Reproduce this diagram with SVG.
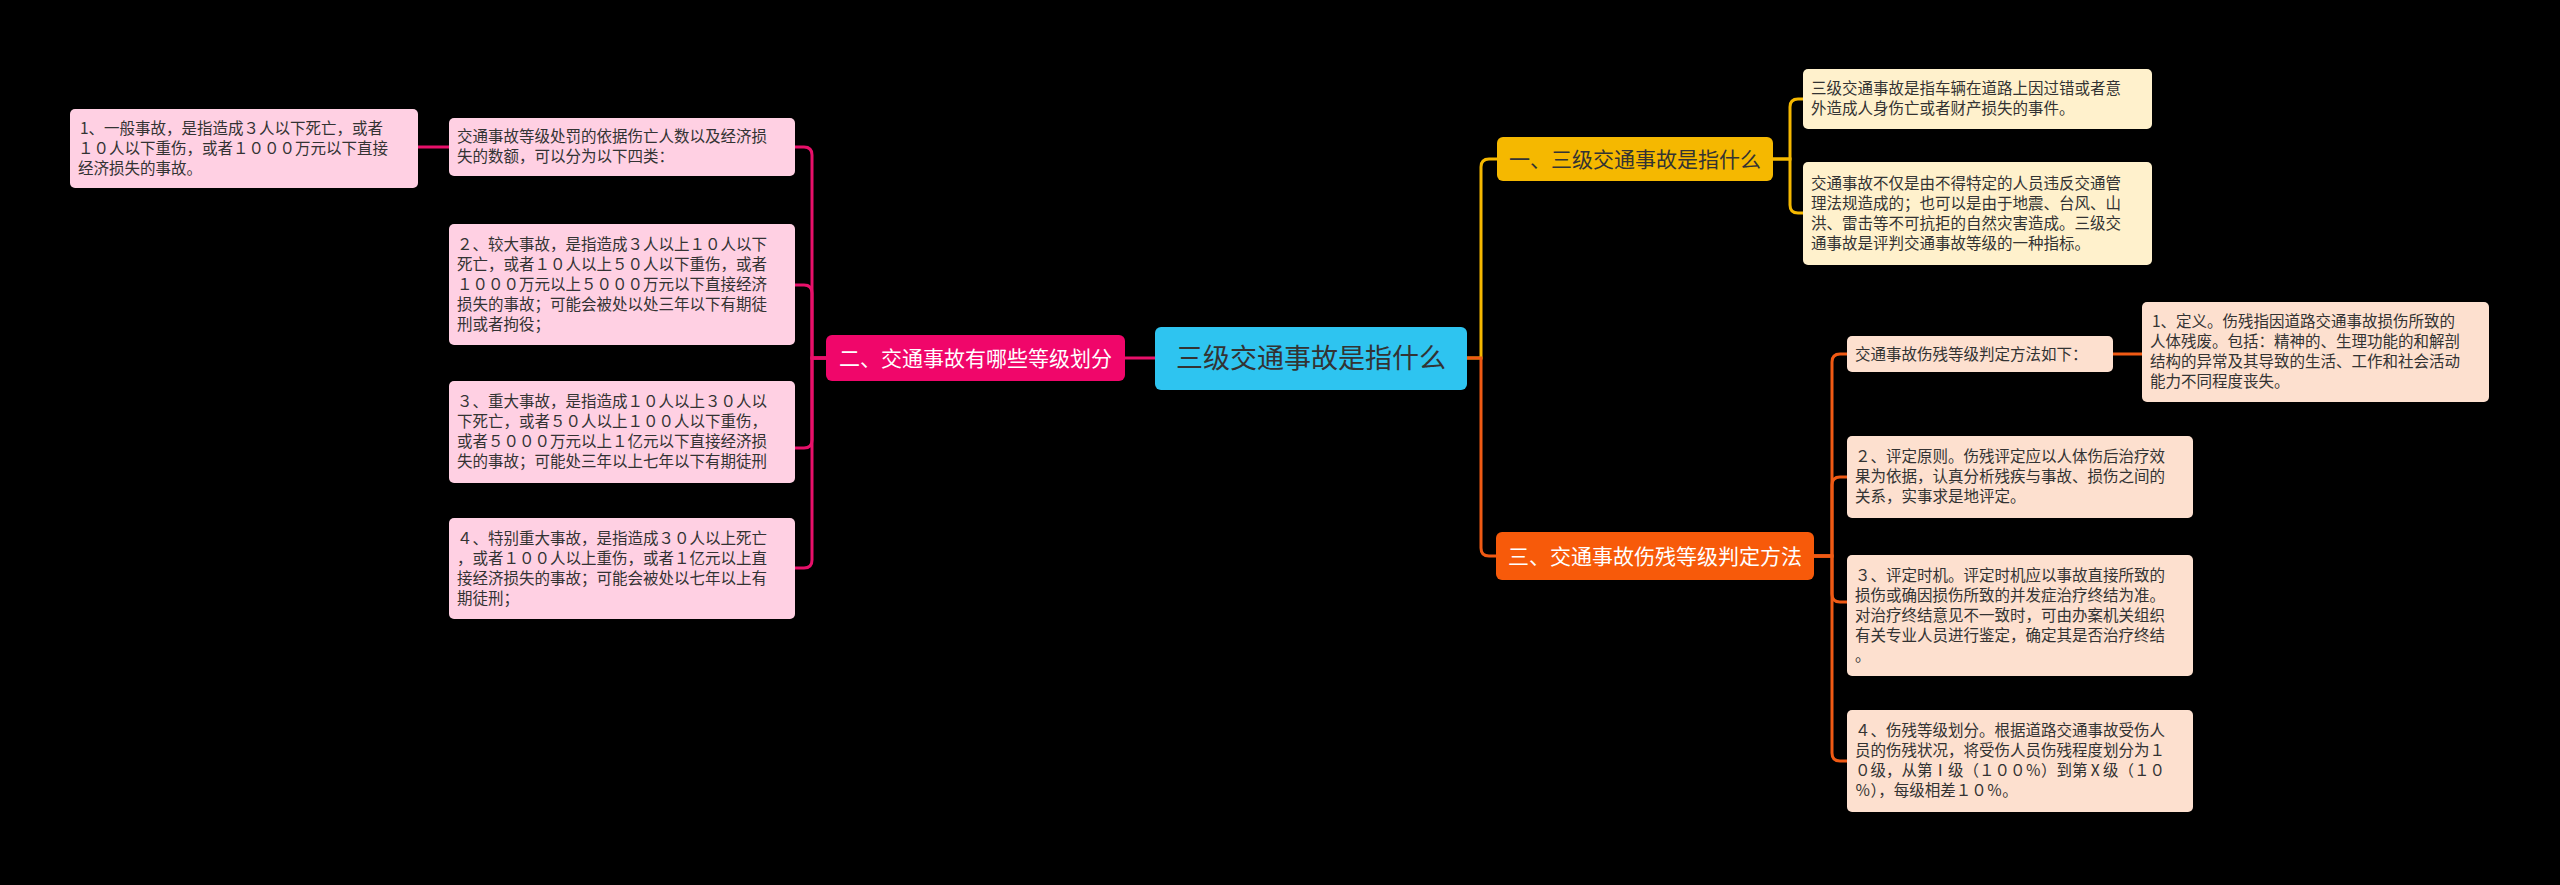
<svg xmlns="http://www.w3.org/2000/svg" width="2560" height="885" viewBox="0 0 2560 885">
<style>
text{font-family:"Noto Sans CJK SC","Noto Sans",sans-serif;}
.t{font-size:15.5px;fill:#333;}
.pk{fill:#ffd0e3;}
.cr{fill:#fff1cc;}
.pc{fill:#fde0cf;}
.c{fill:none;stroke-width:3;}
</style>
<rect width="2560" height="885" fill="#000"/>
<g id="connectors">
<path class="c" stroke="#e8106a" d="M1155,358 H1125"/>
<path class="c" stroke="#e8106a" d="M826,358 H812 V155 Q812,147 804,147 H795"/>
<path class="c" stroke="#e8106a" d="M826,358 H812 V293 Q812,285 804,285 H795"/>
<path class="c" stroke="#e8106a" d="M826,358 H812 V440 Q812,448 804,448 H795"/>
<path class="c" stroke="#e8106a" d="M826,358 H812 V560 Q812,568 804,568 H795"/>
<path class="c" stroke="#e8106a" d="M449,147 H418"/>
<path class="c" stroke="#f5b800" d="M1467,358 H1481 V167 Q1481,159 1489,159 H1497"/>
<path class="c" stroke="#f05a14" d="M1467,358 H1481 V548 Q1481,556 1489,556 H1496"/>
<path class="c" stroke="#f5b800" d="M1773,159 H1790 V107 Q1790,99 1798,99 H1803"/>
<path class="c" stroke="#f5b800" d="M1773,159 H1790 V205 Q1790,213 1798,213 H1803"/>
<path class="c" stroke="#f05a14" d="M1814,556 H1832 V362 Q1832,354 1840,354 H1847"/>
<path class="c" stroke="#f05a14" d="M1814,556 H1832 V485 Q1832,477 1840,477 H1847"/>
<path class="c" stroke="#f05a14" d="M1814,556 H1832 V594 Q1832,602 1840,602 H1847"/>
<path class="c" stroke="#f05a14" d="M1814,556 H1832 V753 Q1832,761 1840,761 H1847"/>
<path class="c" stroke="#f05a14" d="M2113,354 H2142"/>
</g>
<g id="center"><rect x="1155" y="327" width="312" height="63" rx="6" fill="#2ec4f0"/><text x="1311" y="368" font-size="27" fill="#333" text-anchor="middle">三级交通事故是指什么</text></g>
<g id="b2"><rect x="826" y="335" width="299" height="46" rx="6" fill="#f0066a"/><text x="975.5" y="366" font-size="21" fill="#fff" text-anchor="middle">二、交通事故有哪些等级划分</text></g>
<g id="b1"><rect x="1497" y="137" width="276" height="44" rx="6" fill="#f5b800"/><text x="1635" y="167" font-size="21" fill="#333" text-anchor="middle">一、三级交通事故是指什么</text></g>
<g id="b3"><rect x="1496" y="532" width="318" height="48" rx="6" fill="#f75a0a"/><text x="1655" y="564" font-size="21" fill="#fff" text-anchor="middle">三、交通事故伤残等级判定方法</text></g>
<g id="l0"><rect class="pk" x="449" y="118" width="346" height="58" rx="5"/><text class="t" x="457"><tspan x="457" y="142">交通事故等级处罚的依据伤亡人数以及经济损</tspan><tspan x="457" y="162">失的数额，可以分为以下四类：</tspan></text></g>
<g id="l1"><rect class="pk" x="70" y="109" width="348" height="79" rx="5"/><text class="t" x="78"><tspan x="80" y="134">1、一般事故，是指造成３人以下死亡，或者</tspan><tspan x="78" y="154">１０人以下重伤，或者１０００万元以下直接</tspan><tspan x="78" y="174">经济损失的事故。</tspan></text></g>
<g id="l2"><rect class="pk" x="449" y="224" width="346" height="121" rx="5"/><text class="t"><tspan x="457" y="250">２、较大事故，是指造成３人以上１０人以下</tspan><tspan x="457" y="270">死亡，或者１０人以上５０人以下重伤，或者</tspan><tspan x="457" y="290">１０００万元以上５０００万元以下直接经济</tspan><tspan x="457" y="310">损失的事故；可能会被处以处三年以下有期徒</tspan><tspan x="457" y="330">刑或者拘役；</tspan></text></g>
<g id="l3"><rect class="pk" x="449" y="381" width="346" height="102" rx="5"/><text class="t"><tspan x="457" y="407">３、重大事故，是指造成１０人以上３０人以</tspan><tspan x="457" y="427">下死亡，或者５０人以上１００人以下重伤，</tspan><tspan x="457" y="447">或者５０００万元以上１亿元以下直接经济损</tspan><tspan x="457" y="467">失的事故；可能处三年以上七年以下有期徒刑</tspan></text></g>
<g id="l4"><rect class="pk" x="449" y="518" width="346" height="101" rx="5"/><text class="t"><tspan x="457" y="544">４、特别重大事故，是指造成３０人以上死亡</tspan><tspan x="457" y="564">，或者１００人以上重伤，或者１亿元以上直</tspan><tspan x="457" y="584">接经济损失的事故；可能会被处以七年以上有</tspan><tspan x="457" y="604">期徒刑；</tspan></text></g>
<g id="r1a"><rect class="cr" x="1803" y="69" width="349" height="60" rx="5"/><text class="t"><tspan x="1811" y="94">三级交通事故是指车辆在道路上因过错或者意</tspan><tspan x="1811" y="114">外造成人身伤亡或者财产损失的事件。</tspan></text></g>
<g id="r1b"><rect class="cr" x="1803" y="162" width="349" height="103" rx="5"/><text class="t"><tspan x="1811" y="189">交通事故不仅是由不得特定的人员违反交通管</tspan><tspan x="1811" y="209">理法规造成的；也可以是由于地震、台风、山</tspan><tspan x="1811" y="229">洪、雷击等不可抗拒的自然灾害造成。三级交</tspan><tspan x="1811" y="249">通事故是评判交通事故等级的一种指标。</tspan></text></g>
<g id="c0"><rect class="pc" x="1847" y="336" width="266" height="36" rx="5"/><text class="t" x="1855" y="360">交通事故伤残等级判定方法如下：</text></g>
<g id="c0a"><rect class="pc" x="2142" y="302" width="347" height="100" rx="5"/><text class="t"><tspan x="2152" y="327">1、定义。伤残指因道路交通事故损伤所致的</tspan><tspan x="2150" y="347">人体残废。包括：精神的、生理功能的和解剖</tspan><tspan x="2150" y="367">结构的异常及其导致的生活、工作和社会活动</tspan><tspan x="2150" y="387">能力不同程度丧失。</tspan></text></g>
<g id="c1"><rect class="pc" x="1847" y="436" width="346" height="82" rx="5"/><text class="t"><tspan x="1855" y="462">２、评定原则。伤残评定应以人体伤后治疗效</tspan><tspan x="1855" y="482">果为依据，认真分析残疾与事故、损伤之间的</tspan><tspan x="1855" y="502">关系，实事求是地评定。</tspan></text></g>
<g id="c2"><rect class="pc" x="1847" y="555" width="346" height="121" rx="5"/><text class="t"><tspan x="1855" y="581">３、评定时机。评定时机应以事故直接所致的</tspan><tspan x="1855" y="601">损伤或确因损伤所致的并发症治疗终结为准。</tspan><tspan x="1855" y="621">对治疗终结意见不一致时，可由办案机关组织</tspan><tspan x="1855" y="641">有关专业人员进行鉴定，确定其是否治疗终结</tspan><tspan x="1855" y="661">。</tspan></text></g>
<g id="c3"><rect class="pc" x="1847" y="710" width="346" height="102" rx="5"/><text class="t"><tspan x="1855" y="736">４、伤残等级划分。根据道路交通事故受伤人</tspan><tspan x="1855" y="756">员的伤残状况，将受伤人员伤残程度划分为１</tspan><tspan x="1855" y="776">０级，从第Ⅰ级（１００％）到第Ⅹ级（１０</tspan><tspan x="1855" y="796">％），每级相差１０％。</tspan></text></g>
</svg>
